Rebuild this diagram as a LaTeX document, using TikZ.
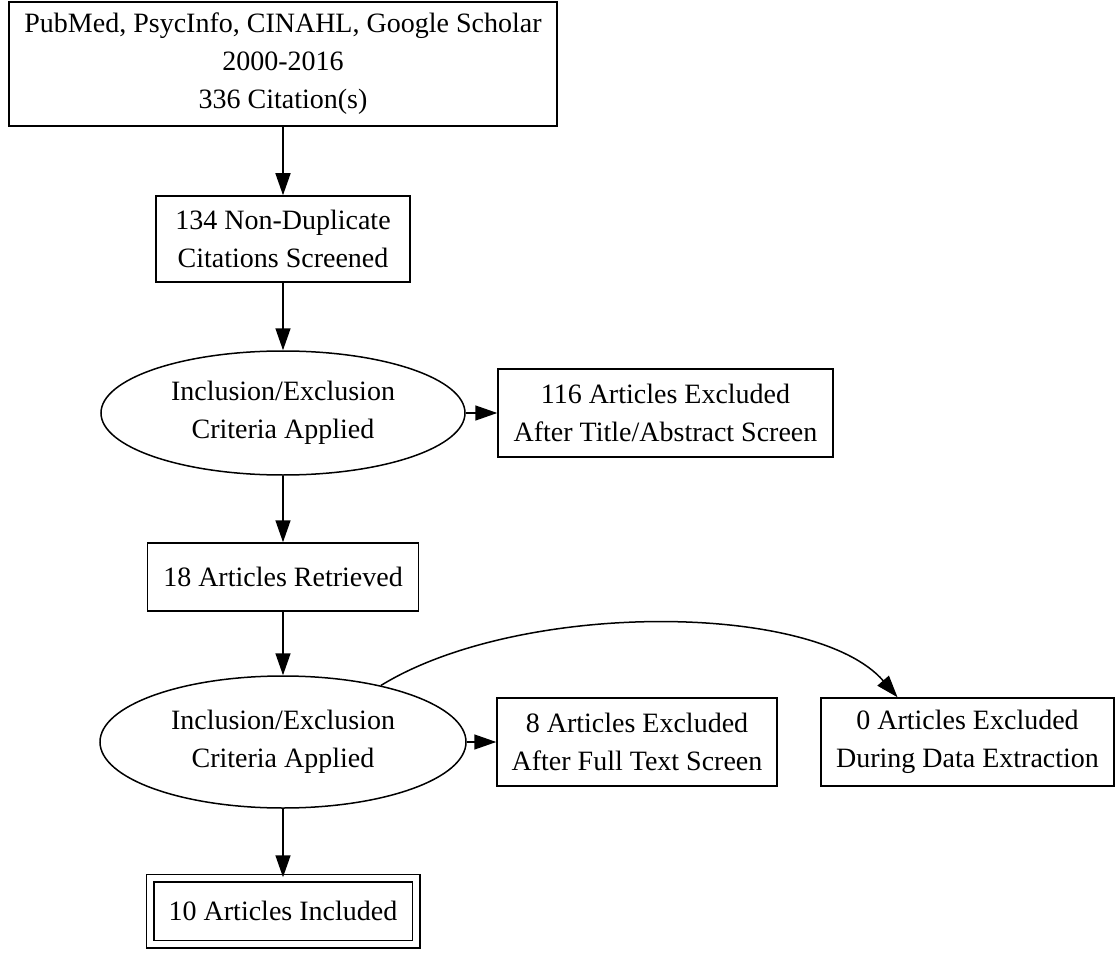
\documentclass[tikz,border=0pt]{standalone}
\usepackage{fontspec}
\setmainfont{Liberation Serif}
\usetikzlibrary{shapes.geometric,arrows.meta}

\begin{document}
\begin{tikzpicture}[x=1pt,y=-1pt,
  every node/.style={font=\fontsize{28}{38}\selectfont, align=center, inner sep=0pt, line width=1.5pt},
  box/.style={draw, rectangle},
  crit/.style={draw, ellipse},
  arr/.style={-{Triangle[length=22pt,width=15pt]}, line width=1.5pt}]

  \useasboundingbox (0,0) rectangle (1118,957);

  \node[box, minimum width=548pt, minimum height=124pt] (src) at (283,64)
    {PubMed, PsycInfo, CINAHL, Google Scholar\\2000-2016\\336 Citation(s)};
  \node[box, minimum width=254pt, minimum height=86pt] (dedup) at (283,239)
    {134 Non-Duplicate\\Citations Screened};
  \node[crit, minimum width=364pt, minimum height=124pt] (crit1) at (283,413)
    {Inclusion/Exclusion\\Criteria Applied};
  \node[box, minimum width=335pt, minimum height=88pt] (excl1) at (665.5,413)
    {116 Articles Excluded\\After Title/Abstract Screen};
  \node[box, minimum width=271pt, minimum height=68pt] (retr) at (283,577)
    {18 Articles Retrieved};
  \node[crit, minimum width=366pt, minimum height=132pt] (crit2) at (283,742)
    {Inclusion/Exclusion\\Criteria Applied};
  \node[box, minimum width=280pt, minimum height=88pt] (excl2) at (637,742)
    {8 Articles Excluded\\After Full Text Screen};
  \node[box, minimum width=293pt, minimum height=88pt] (excl3) at (967.5,742)
    {0 Articles Excluded\\During Data Extraction};
  \node[box, double, double distance=6pt, minimum width=266pt, minimum height=66pt] (incl) at (283,911)
    {10 Articles Included};

  \draw[arr] (src) -- (dedup);
  \draw[arr] (dedup) -- (crit1);
  \draw[arr] (crit1) -- (excl1);
  \draw[arr] (crit1) -- (retr);
  \draw[arr] (retr) -- (crit2);
  \draw[arr] (crit2) -- (excl2);
  \draw[arr] (crit2.30) .. controls (520,600) and (815,602) .. ([xshift=-70pt]excl3.north);
  \draw[arr] (crit2) -- (incl);
\end{tikzpicture}
\end{document}
